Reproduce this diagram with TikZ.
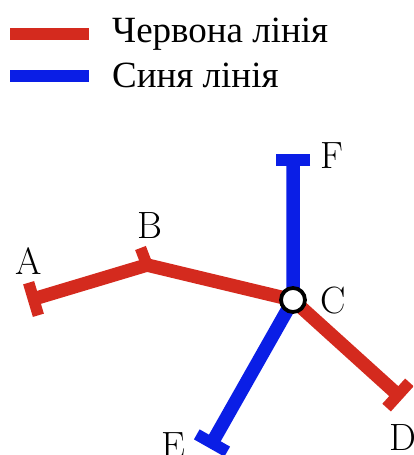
\documentclass[tikz,border=0pt]{standalone}
\usepackage{fontspec}
\newfontfamily\legendfont{Liberation Serif}
\usetikzlibrary{calc}
\definecolor{linered}{HTML}{D42A1E}
\definecolor{lineblue}{HTML}{0A1EE6}
\tikzset{
  x=1pt,y=-1pt,
  redline/.style={draw=linered,line width=13.5pt,line join=miter},
  blueline/.style={draw=lineblue,line width=13.5pt},
  tick/.style={line width=11.5pt},
  station/.style={anchor=base,inner sep=0pt,text=black,font=\fontsize{38}{44}\selectfont},
  legendtext/.style={anchor=base west,inner sep=0pt,text=black,font=\legendfont\fontsize{37}{44}\selectfont},
  junction/.style={circle,draw=black,fill=white,line width=3.8pt,minimum size=24pt,inner sep=0pt}
}
\begin{document}
\begin{tikzpicture}
\useasboundingbox (0,0) rectangle (413,455);
\clip (0,0) rectangle (413,455);
% legend
\coordinate (r1) at (10,34);
\coordinate (r2) at (89,34);
\coordinate (b1) at (10,76);
\coordinate (b2) at (89,76);
\draw[redline,line width=12pt] (r1) -- (r2);
\draw[blueline,line width=12pt] (b1) -- (b2);
\node[legendtext] (t1) at (112,42) {Червона лінія};
\node[legendtext] (t2) at (112,87) {Синя лінія};
% stations
\coordinate (A) at (33.5,299);
\coordinate (B) at (147,265);
\coordinate (C) at (293,300);
\coordinate (D) at (398,395);
\coordinate (E) at (212,443);
\coordinate (F) at (293,160);
\coordinate (Bt) at (140.5,248);
% lines
\draw[blueline] (F) -- (C) -- (E);
\draw[redline] (A) -- (B) -- (C) -- (D);
% ticks
\draw[redline,tick] ($(A)!17pt!90:(B)$) -- ($(A)!17pt!-90:(B)$);
\draw[redline,tick] (B) -- (Bt);
\draw[redline,tick] ($(D)!17pt!90:(C)$) -- ($(D)!17pt!-90:(C)$);
\draw[blueline,tick] ($(E)!17.5pt!90:(C)$) -- ($(E)!17.5pt!-90:(C)$);
\draw[blueline,tick] ($(F)!17pt!90:(C)$) -- ($(F)!17pt!-90:(C)$);
\node[junction] (Cn) at (C) {};
% labels
\node[station] (la) at (29,274) {A};
\node[station] (lb) at (149.5,238) {B};
\node[station] (lc) at (333,313) {C};
\node[station] (ld) at (403,450) {D};
\node[station] (le) at (173,458) {E};
\node[station] (lf) at (332,168) {F};
\end{tikzpicture}
\end{document}
